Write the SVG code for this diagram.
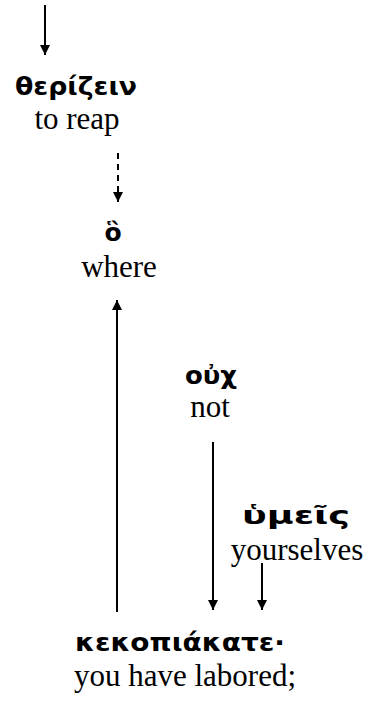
<svg xmlns="http://www.w3.org/2000/svg" width="369" height="710" viewBox="0 0 369 710">
<style>
.g{font-family:"DejaVu Sans","Noto Sans",sans-serif;font-weight:bold;font-size:25px;fill:#000;text-anchor:middle}
.e{font-family:"Liberation Serif","Times New Roman",serif;font-size:31px;fill:#000;text-anchor:middle}
.c{stroke:#000;stroke-width:2;fill:none}
.d{stroke-dasharray:6,5}
</style>
<defs>
<marker id="ah" viewBox="0 0 10 10" refX="10" refY="5" markerWidth="10" markerHeight="10" markerUnits="userSpaceOnUse" orient="auto">
<path d="M0,0 L10,5 L0,10 z" fill="#000"/>
</marker>
</defs>
<rect width="369" height="710" fill="#fff"/>
<g id="connectors">
<line class="c" x1="45" y1="5" x2="45" y2="55" marker-end="url(#ah)"/>
<line class="c d" x1="118" y1="153" x2="118" y2="202" marker-end="url(#ah)"/>
<line class="c" x1="117" y1="612" x2="117" y2="300" marker-end="url(#ah)"/>
<line class="c" x1="213" y1="442" x2="213" y2="610" marker-end="url(#ah)"/>
<line class="c" x1="262" y1="563" x2="262" y2="610" marker-end="url(#ah)"/>
</g>
<g id="n1"><text class="g" x="76" y="95" textLength="122" lengthAdjust="spacingAndGlyphs">θερίζειν</text><text class="e" x="77" y="129">to reap</text></g>
<g id="n2"><text class="g" x="113" y="241">ὃ</text><text class="e" x="119" y="277">where</text></g>
<g id="n3"><text class="g" x="211" y="384" textLength="52" lengthAdjust="spacingAndGlyphs">οὐχ</text><text class="e" x="210" y="417">not</text></g>
<g id="n4"><text class="g" x="296" y="524" textLength="108" lengthAdjust="spacingAndGlyphs">ὑμεῖς</text><text class="e" x="297" y="560">yourselves</text></g>
<g id="n5"><text class="g" x="180" y="651" textLength="210" lengthAdjust="spacingAndGlyphs">κεκοπιάκατε·</text><text class="e" x="185" y="686">you have labored;</text></g>
</svg>
